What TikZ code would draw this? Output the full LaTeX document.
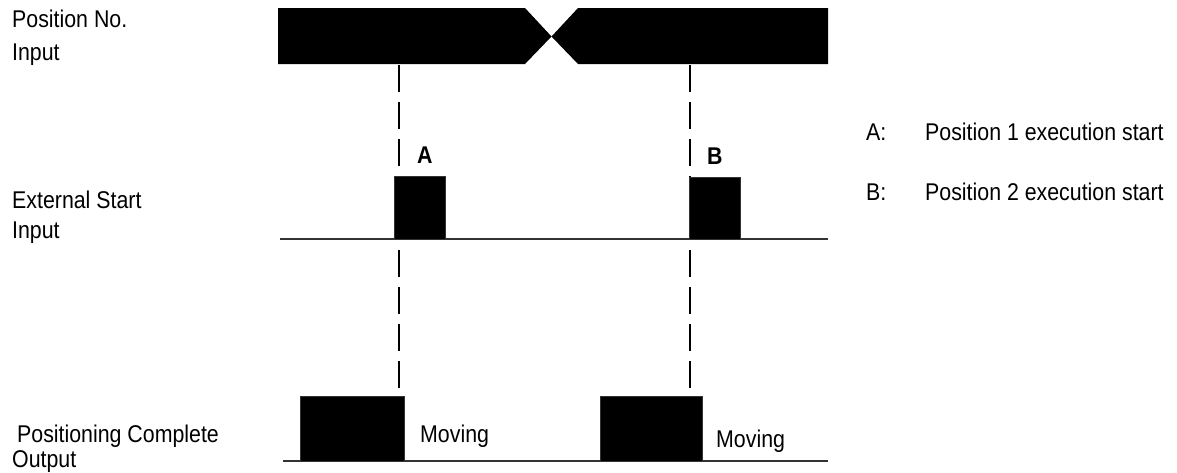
\documentclass[tikz,border=0pt]{standalone}
\usepackage{fontspec}
\setmainfont{Liberation Sans}
\newcommand{\tall}[1]{\scalebox{0.97}[1.1]{#1}}
\begin{document}
\begin{tikzpicture}[x=1pt,y=-1pt,
  lbl/.style={anchor=base west,inner sep=0pt,font=\fontsize{22}{26}\selectfont},
  evlbl/.style={anchor=base west,inner sep=0pt,font=\fontsize{22}{26}\selectfont\bfseries},
  pulse/.style={fill=black,draw=black!80,line width=0.8pt},
  baseline/.style={draw=black!80,line width=1.8pt},
  guide/.style={draw=black,line width=2pt,dash pattern=on 27pt off 10pt}]
\useasboundingbox (0,0) rectangle (1177,472);
% guides (behind pulses)
\coordinate (gA0) at (399,65); \coordinate (gA1) at (399,461);
\coordinate (gB0) at (690,65); \coordinate (gB1) at (690,461);
\draw[guide] (gA0) -- (gA1);
\draw[guide] (gB0) -- (gB1);
% position no. bar
\fill[black] (278,8) -- (525,8) -- (551.5,36.5) -- (525,64) -- (278,64) -- cycle;
\fill[black] (578,8) -- (828,8) -- (828,64) -- (578,64) -- (551.5,36.5) -- cycle;
% external start
\draw[baseline] (280,239) -- (828,239);
\draw[pulse] (394,176) rectangle (445,239);
\draw[pulse] (689,177) rectangle (740,239);
% positioning complete
\draw[baseline] (283,461) -- (828,461);
\draw[pulse] (300,396) rectangle (404,461);
\draw[pulse] (600,396) rectangle (702,461);
% labels
\node[lbl] (l1) at (12,27) {\tall{Position No.}};
\node[lbl] (l2) at (12,60) {\tall{Input}};
\node[lbl] (l3) at (12,208) {\tall{External Start}};
\node[lbl] (l4) at (12,238) {\tall{Input}};
\node[lbl] (l5) at (17,442) {\tall{Positioning Complete}};
\node[lbl] (l6) at (12,467) {\tall{Output}};
\node[evlbl] (mA) at (417,163) {\tall{A}};
\node[evlbl] (mB) at (707,164) {\tall{B}};
\node[lbl] (mv1) at (420,442) {\tall{Moving}};
\node[lbl] (mv2) at (716,447) {\tall{Moving}};
\node[lbl] (kA) at (866,140) {\tall{A:}};
\node[lbl] (tA) at (925,140) {\tall{Position 1 execution start}};
\node[lbl] (kB) at (866,200) {\tall{B:}};
\node[lbl] (tB) at (925,200) {\tall{Position 2 execution start}};
\end{tikzpicture}
\end{document}
